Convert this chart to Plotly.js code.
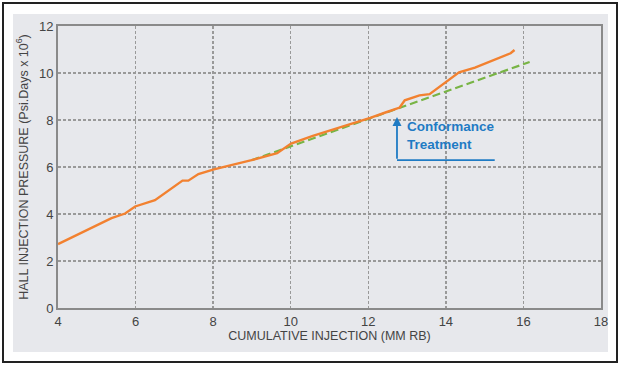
<!DOCTYPE html>
<html><head><meta charset="utf-8">
<script src="https://cdn.plot.ly/plotly-3.0.1.min.js"></script>
<style>html,body{margin:0;padding:0;background:#fff;}#chart{width:620px;height:366px;}</style>
</head><body><div id="chart"></div>
<script>
var hallX = [4.0, 5.38, 5.73, 5.99, 6.5, 7.21, 7.36, 7.62, 8.02, 8.64, 8.99, 9.65, 10.01, 10.57, 11.39, 12.05, 12.46, 12.81, 12.94, 13.32, 13.58, 13.99, 14.34, 14.75, 15.41, 15.67, 15.77];
var hallY = [2.72, 3.82, 4.02, 4.32, 4.59, 5.42, 5.42, 5.70, 5.90, 6.15, 6.29, 6.59, 7.00, 7.32, 7.74, 8.09, 8.33, 8.53, 8.84, 9.05, 9.10, 9.61, 10.03, 10.23, 10.65, 10.84, 10.98];
var trendX = [8.99, 16.16];
var trendY = [6.29, 10.47];
var xTicks = [4, 6, 8, 10, 12, 14, 16, 18];
var yTicks = [0, 2, 4, 6, 8, 10, 12];
var arrowX = [12.74, 12.74];
var arrowY = [6.29, 8.13];
var baseX = [12.74, 15.26];
var baseY = [6.29, 6.29];

var blue = '#1f7bc4';
var traces = [
  {x: trendX, y: trendY, mode: 'lines', line: {color: '#78b445', width: 2.2, dash: '8px,4px'}, hoverinfo: 'skip'},
  {x: hallX, y: hallY, mode: 'lines', line: {color: '#f28130', width: 2.4}, hoverinfo: 'skip'},
  {x: baseX, y: baseY, mode: 'lines', line: {color: blue, width: 1.8}, hoverinfo: 'skip'}
];
var fam = 'Liberation Sans, Arial, sans-serif';
var layout = {
  width: 620, height: 366,
  margin: {l: 58, r: 19, t: 26, b: 58},
  paper_bgcolor: '#ffffff',
  plot_bgcolor: '#e7e8ec',
  showlegend: false,
  font: {family: fam, size: 12.5, color: '#444'},
  xaxis: {
    range: [4, 18], tickvals: xTicks, ticktext: xTicks.map(String),
    showgrid: true, gridcolor: '#999', griddash: '3px,2px', gridwidth: 1.3,
    zeroline: false, showline: true, linecolor: '#8a8a8a', linewidth: 2, mirror: true,
    ticks: '', ticklen: 0,
    title: {text: 'CUMULATIVE INJECTION (MM RB)', font: {family: fam, size: 12.5, color: '#444'}, standoff: 4},
    tickfont: {size: 13, color: '#444'}
  },
  yaxis: {
    range: [0, 12], tickvals: yTicks, ticktext: yTicks.map(String),
    showgrid: true, gridcolor: '#999', griddash: '3px,2px', gridwidth: 1.3,
    zeroline: false, showline: true, linecolor: '#8a8a8a', linewidth: 2, mirror: true,
    ticks: '', ticklen: 0,
    title: {text: 'HALL INJECTION PRESSURE (Psi.Days x 10<sup>6</sup>)', font: {family: fam, size: 12.5, color: '#444'}, standoff: 8},
    tickfont: {size: 13, color: '#444'}
  },
  shapes: [
    {type: 'rect', xref: 'paper', yref: 'paper', layer: 'below',
     x0: -45/543, x1: 550/543, y0: -(352-308)/282, y1: (308-14)/282,
     fillcolor: '#e7e8ec', line: {width: 0}},
    {type: 'rect', xref: 'paper', yref: 'paper', layer: 'below',
     x0: -55/543, x1: 559/543, y0: -(362-308)/282, y1: (308-3)/282,
     fillcolor: 'rgba(0,0,0,0)', line: {color: '#222', width: 2}}
  ],
  annotations: [
    {x: arrowX[1], y: arrowY[1], ax: arrowX[0], ay: arrowY[0], xref: 'x', yref: 'y', axref: 'x', ayref: 'y',
     showarrow: true, arrowhead: 2, arrowsize: 1, arrowwidth: 1.8, arrowcolor: blue, text: ''},
    {x: 12.95, y: 7.33, xref: 'x', yref: 'y', xanchor: 'left', yanchor: 'middle', align: 'left', showarrow: false,
     text: '<b>Conformance<br>Treatment</b>', font: {family: fam, size: 13.5, color: blue}}
  ]
};
Plotly.newPlot('chart', traces, layout, {displayModeBar: false, staticPlot: true});
</script></body></html>
